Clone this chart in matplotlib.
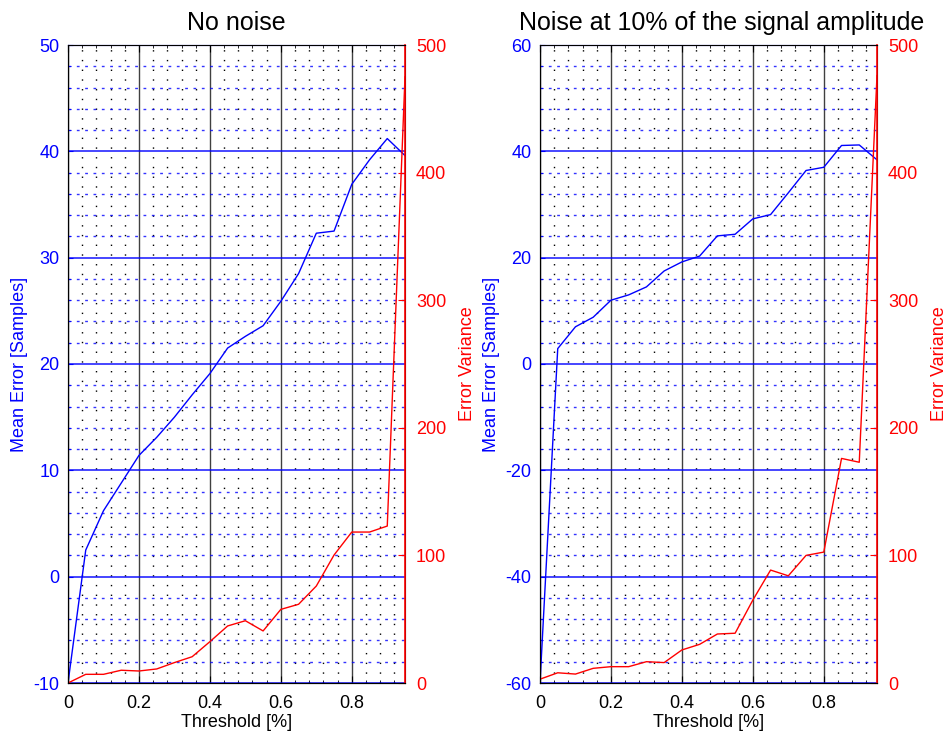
import matplotlib
matplotlib.use("Agg")
import matplotlib.pyplot as plt
from matplotlib.ticker import MultipleLocator

plt.rcParams['font.family'] = ['Liberation Sans', 'DejaVu Sans']
plt.rcParams['axes.unicode_minus'] = False

# threshold values (fraction)
threshold = [0.0, 0.05, 0.1, 0.15, 0.2, 0.25, 0.3, 0.35, 0.4, 0.45,
             0.5, 0.55, 0.6, 0.65, 0.7, 0.75, 0.8, 0.85, 0.9, 0.95]

# no noise
mean_err_clean = [-10.0, 2.5, 6.2, 8.8, 11.4, 13.1, 15.0, 17.1, 19.1, 21.5,
                  22.6, 23.6, 25.9, 28.5, 32.3, 32.5, 36.9, 39.2, 41.2, 39.6]
var_clean = [0.0, 6.8, 6.8, 10.0, 9.4, 11.0, 16.0, 20.6, 32.4, 44.7,
             48.8, 40.8, 57.7, 61.7, 76.0, 100.3, 118.3, 118.3, 123.0, 475.0]

# noise at 10%
mean_err_noisy = [-60.0, 2.9, 7.0, 8.8, 12.0, 13.0, 14.5, 17.5, 19.2, 20.3,
                  24.1, 24.4, 27.3, 28.1, 32.2, 36.4, 37.0, 41.1, 41.2, 38.4]
var_noisy = [3.0, 8.0, 7.0, 11.5, 12.8, 12.8, 16.7, 16.0, 25.9, 30.3,
             38.4, 39.0, 65.0, 88.5, 84.0, 100.0, 102.6, 176.0, 173.0, 476.0]

titles = ["No noise", "Noise at 10% of the signal amplitude"]
y_lims = [(-10, 50), (-60, 60)]
y_major = [10, 20]


def draw_panel(rect, title, mean_err, var, ylim, ymaj, title_x):
    ax = fig.add_axes(rect)
    ax.plot(threshold, mean_err, color='#0000ff', lw=1)
    ax.set_xlim(0, 0.95)
    ax.set_ylim(*ylim)
    ax.xaxis.set_minor_locator(MultipleLocator(0.04))
    ax.yaxis.set_major_locator(MultipleLocator(ymaj))
    ax.yaxis.set_minor_locator(MultipleLocator(ymaj / 5))
    ax.set_xticks([0, 0.2, 0.4, 0.6, 0.8])
    ax.set_xticklabels(['0', '0.2', '0.4', '0.6', '0.8'])

    # grids
    ax.grid(True, which='major', axis='x', color='black', lw=1, alpha=0.75)
    ax.grid(True, which='minor', axis='x', color='black', lw=1, ls=(0, (1, 6)))
    ax.grid(True, which='major', axis='y', color='#0000ff', lw=1.2, alpha=0.85)
    ax.grid(True, which='minor', axis='y', color='#0000ff', lw=1, ls=(0, (2, 4)), alpha=0.8)
    ax.set_axisbelow(True)

    ax.tick_params(axis='both', which='both', direction='in', top=True)
    ax.tick_params(axis='y', which='both', colors='#0000ff', labelsize=13, pad=6)
    ax.tick_params(axis='x', labelsize=13, length=5, pad=9)
    ax.tick_params(which='minor', length=2)
    ax.spines['left'].set_color('#000033')
    ax.spines['top'].set_color('#0000ff')
    ax.set_xlabel("Threshold [%]", fontsize=13, labelpad=1)
    ax.set_ylabel("Mean Error [Samples]", color='#0000ff', fontsize=13, labelpad=4)
    ax.set_title(title, fontsize=18, pad=11, x=title_x)

    ax2 = ax.twinx()
    ax2.plot(threshold, var, color='#ff0000', lw=1)
    ax2.set_ylim(0, 500)
    ax2.yaxis.set_major_locator(MultipleLocator(100))
    ax2.tick_params(axis='y', direction='in', colors='#ff0000', labelsize=13,
                    length=5, pad=8)
    ax2.spines['right'].set_color('#ff0000')
    ax2.spines['right'].set_linewidth(1.2)
    ax2.set_ylabel("Error Variance", color='#ff0000', fontsize=13, labelpad=9)
    return ax, ax2


fig = plt.figure(figsize=(9.47, 7.36), dpi=100)
W, H = 947, 736
rects = [
    [68 / W, 1 - 683 / H, 337 / W, 638 / H],
    [540 / W, 1 - 683 / H, 337 / W, 638 / H],
]
draw_panel(rects[0], titles[0], mean_err_clean, var_clean, y_lims[0], y_major[0], 0.5)
draw_panel(rects[1], titles[1], mean_err_noisy, var_noisy, y_lims[1], y_major[1], 0.54)

fig.savefig("out.png", dpi=100)
